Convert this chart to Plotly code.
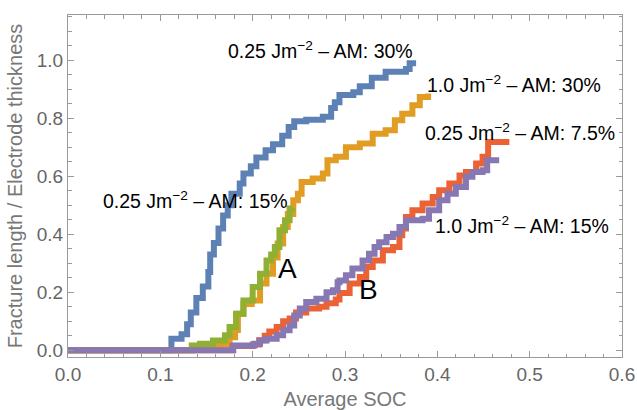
import plotly.graph_objects as go

# Fracture growth vs. average state of charge (step curves)
soc_a30_025 = [0, 0.110, 0.112, 0.123, 0.129, 0.133, 0.139, 0.146, 0.152, 0.154, 0.158, 0.163,
               0.168, 0.173, 0.177, 0.186, 0.190, 0.198, 0.204, 0.214, 0.222, 0.232, 0.239,
               0.245, 0.258, 0.276, 0.285, 0.289, 0.294, 0.309, 0.316, 0.329, 0.344, 0.366,
               0.370, 0.377]
len_a30_025 = [0, 0, 0.04, 0.055, 0.09, 0.13, 0.18, 0.22, 0.27, 0.33, 0.37, 0.42,
               0.465, 0.50, 0.54, 0.575, 0.61, 0.635, 0.665, 0.69, 0.71, 0.74, 0.77,
               0.79, 0.795, 0.805, 0.835, 0.855, 0.88, 0.89, 0.91, 0.94, 0.96, 0.97,
               0.99, 0.99]

soc_a30_10 = [0, 0.133, 0.135, 0.150, 0.163, 0.172, 0.175, 0.181, 0.184, 0.190, 0.199, 0.208,
              0.215, 0.222, 0.227, 0.233, 0.238, 0.244, 0.249, 0.253, 0.265, 0.276, 0.281,
              0.290, 0.301, 0.316, 0.330, 0.344, 0.354, 0.362, 0.373, 0.381, 0.390]
len_a30_10 = [0, 0, 0.008, 0.015, 0.022, 0.03, 0.045, 0.07, 0.126, 0.16, 0.172, 0.23,
              0.264, 0.32, 0.368, 0.425, 0.47, 0.517, 0.54, 0.58, 0.592, 0.61, 0.655,
              0.667, 0.70, 0.713, 0.747, 0.759, 0.793, 0.816, 0.845, 0.873, 0.885]

soc_a15_025 = [0, 0.132, 0.134, 0.143, 0.157, 0.170, 0.175, 0.182, 0.190, 0.200, 0.208,
               0.215, 0.220, 0.224, 0.229, 0.235, 0.240, 0.243]
len_a15_025 = [0, 0, 0.017, 0.023, 0.034, 0.052, 0.08, 0.126, 0.172, 0.218, 0.264,
               0.31, 0.33, 0.356, 0.414, 0.448, 0.489, 0.49]

soc_a75_025 = [0, 0.175, 0.178, 0.200, 0.207, 0.213, 0.218, 0.226, 0.233, 0.240, 0.247,
               0.258, 0.272, 0.280, 0.290, 0.294, 0.305, 0.316, 0.323, 0.330, 0.341, 0.352,
               0.359, 0.362, 0.366, 0.373, 0.384, 0.395, 0.402, 0.413, 0.424, 0.431, 0.442,
               0.449, 0.455, 0.478]
len_a75_025 = [0, 0, 0.015, 0.02, 0.035, 0.05, 0.065, 0.08, 0.10, 0.11, 0.13,
               0.144, 0.15, 0.162, 0.175, 0.198, 0.23, 0.253, 0.287, 0.31, 0.345, 0.356,
               0.397, 0.42, 0.46, 0.483, 0.506, 0.529, 0.552, 0.575, 0.603, 0.615, 0.644,
               0.667, 0.718, 0.718]

soc_a15_10 = [0, 0.175, 0.179, 0.202, 0.208, 0.215, 0.226, 0.233, 0.240, 0.245, 0.251,
              0.258, 0.269, 0.280, 0.287, 0.292, 0.294, 0.301, 0.308, 0.319, 0.326, 0.332,
              0.337, 0.345, 0.352, 0.359, 0.366, 0.384, 0.391, 0.402, 0.411, 0.420, 0.431,
              0.438, 0.449, 0.454, 0.467]
len_a15_10 = [0, 0, 0.017, 0.023, 0.034, 0.04, 0.052, 0.069, 0.086, 0.12, 0.144,
              0.167, 0.178, 0.20, 0.207, 0.235, 0.241, 0.259, 0.282, 0.31, 0.333, 0.356,
              0.373, 0.391, 0.402, 0.425, 0.448, 0.454, 0.483, 0.517, 0.54, 0.563, 0.598,
              0.615, 0.621, 0.655, 0.655]

series = [
    (soc_a30_025, len_a30_025, "#5E81B5"),
    (soc_a30_10, len_a30_10, "#E19C24"),
    (soc_a15_025, len_a15_025, "#8FB032"),
    (soc_a75_025, len_a75_025, "#EB6235"),
    (soc_a15_10, len_a15_10, "#8778B3"),
]

labels = [
    ("0.25 Jm<sup>−2</sup> – AM: 30%", 0.2735, 1.034),
    ("1.0 Jm<sup>−2</sup> – AM: 30%", 0.483, 0.917),
    ("0.25 Jm<sup>−2</sup> – AM: 7.5%", 0.490, 0.753),
    ("1.0 Jm<sup>−2</sup> – AM: 15%", 0.492, 0.431),
    ("0.25 Jm<sup>−2</sup> – AM: 15%", 0.138, 0.517),
]
region_marks = [("A", 0.238, 0.283), ("B", 0.325, 0.210)]

FONT = "Liberation Sans"
FRAME = "#9a9a9a"
TICKTXT = "#666666"

fig = go.Figure()
for xs, ys, col in series:
    fig.add_trace(go.Scatter(x=xs, y=ys, mode="lines", line_shape="hv",
                             line=dict(color=col, width=6), showlegend=False))

for txt, x, y in labels:
    fig.add_annotation(x=x, y=y, xref="x", yref="y", text=txt, showarrow=False,
                       xanchor="center", yanchor="middle",
                       font=dict(family=FONT, size=19.5, color="black"))
for txt, x, y in region_marks:
    fig.add_annotation(x=x, y=y, xref="x", yref="y", text=txt, showarrow=False,
                       xanchor="center", yanchor="middle",
                       font=dict(family=FONT, size=28, color="black"))

axis_common = dict(
    showline=True, linecolor=FRAME, linewidth=1, mirror="ticks",
    ticks="inside", ticklen=6, tickwidth=1, tickcolor=FRAME,
    showgrid=False, zeroline=False, tickformat=".1f", automargin=False,
    tickfont=dict(family=FONT, size=19, color=TICKTXT),
)

fig.update_xaxes(range=[0, 0.6], dtick=0.1, tick0=0,
                 minor=dict(ticks="inside", ticklen=3.5, dtick=0.02, tickcolor=FRAME),
                 title=dict(text="Average SOC", standoff=12,
                            font=dict(family=FONT, size=20, color="#777777")),
                 **axis_common)
fig.update_yaxes(range=[-0.023, 1.156], dtick=0.2, tick0=0,
                 minor=dict(ticks="inside", ticklen=3.5, dtick=0.05, tickcolor=FRAME),
                 title=dict(text="Fracture length / Electrode thickness", standoff=8,
                            font=dict(family=FONT, size=20, color="#777777")),
                 **axis_common)

fig.update_layout(width=637, height=410,
                  margin=dict(l=68, r=15, t=15, b=53),
                  plot_bgcolor="white", paper_bgcolor="white")

fig.write_html("out.html")
